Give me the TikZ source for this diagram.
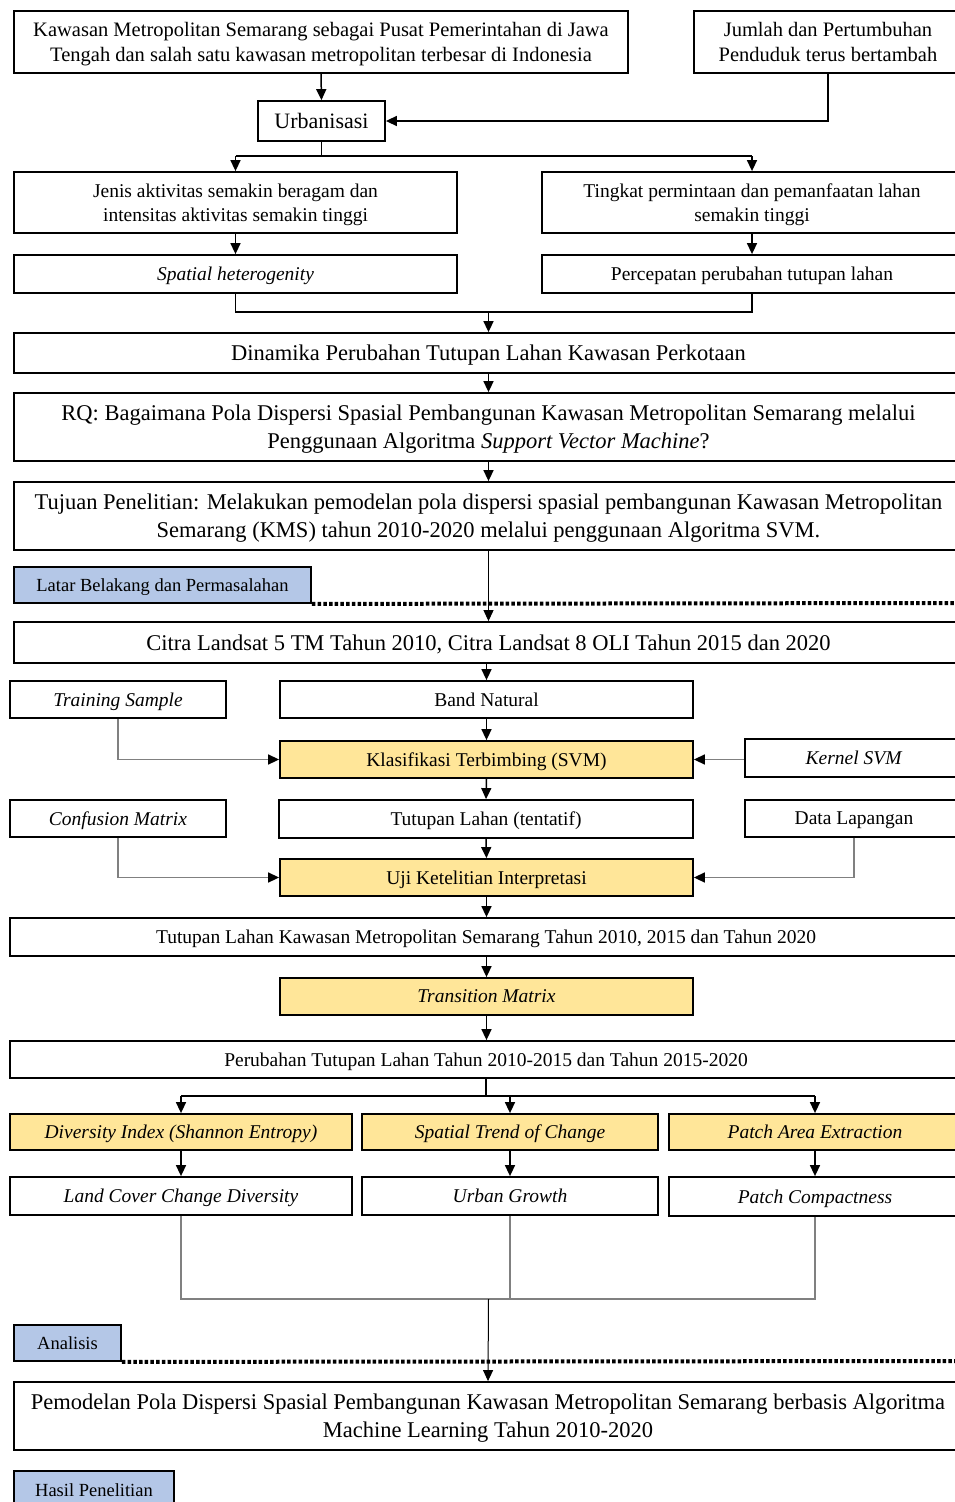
\documentclass[tikz,border=0pt]{standalone}
\usepackage{fontspec}
\setmainfont{Liberation Serif}
\usetikzlibrary{arrows.meta,calc}
\definecolor{bluec}{RGB}{180,199,231}
\definecolor{yellowc}{RGB}{255,230,153}
\definecolor{lgray}{RGB}{128,128,128}
\newcommand\setfs[2]{\fontsize{#1}{#2}\selectfont}
\begin{document}
\begin{tikzpicture}[x=1pt,y=-1pt,
  box/.style={draw=black, line width=1.8pt, fill=white, align=center, inner sep=0pt, text=black, text depth=0pt},
  hl/.style={box, fill=yellowc},
  lbl/.style={box, fill=bluec},
  conn/.style={line width=1.5pt, draw=black},
  arr/.style={conn, -{Triangle[length=11pt,width=10pt]}},
  tarr/.style={line width=1pt, draw=black, -{Triangle[length=11pt,width=10pt]}},
  gconn/.style={line width=1.5pt, draw=lgray},
  garr/.style={gconn, -{Triangle[length=11pt,width=10pt,color=black]}},
  dotl/.style={line width=4pt, draw=black, dash pattern=on 3.5pt off 2.2pt},
  f1/.style={font=\setfs{20.5}{25}},
  f2/.style={font=\setfs{19.5}{24}},
  f3/.style={font=\setfs{22.5}{28}},
  f4/.style={font=\setfs{18.5}{22}}
]
\useasboundingbox (0,0) rectangle (954,1502);
\fill[white] (0,0) rectangle (954,1502);

% --- top part
\node[box,f1,minimum width=614pt,minimum height=62pt] (A) at (321,42) {Kawasan Metropolitan Semarang sebagai Pusat Pemerintahan di Jawa\\Tengah dan salah satu kawasan metropolitan terbesar di Indonesia};
\node[box,f1,minimum width=268pt,minimum height=62pt] (B) at (828,42) {Jumlah dan Pertumbuhan\\Penduduk terus bertambah};
\node[box,font=\setfs{22}{26},minimum width=127pt,minimum height=40pt] (U) at (321.5,121) {Urbanisasi};
\node[box,f2,minimum width=443pt,minimum height=61pt] (C) at (235.5,202.5) {Jenis aktivitas semakin beragam dan\\intensitas aktivitas semakin tinggi};
\node[box,f2,minimum width=420pt,minimum height=61pt] (D) at (752,202.5) {Tingkat permintaan dan pemanfaatan lahan\\semakin tinggi};
\node[box,f2,minimum width=443pt,minimum height=38pt] (E) at (235.5,274) {\textit{Spatial heterogenity}};
\node[box,f2,minimum width=420pt,minimum height=38pt] (F) at (752,274) {Percepatan perubahan tutupan lahan};
\node[box,f3,minimum width=949pt,minimum height=40pt] (G) at (488.5,353) {Dinamika Perubahan Tutupan Lahan Kawasan Perkotaan};
\node[box,f3,minimum width=949pt,minimum height=68pt] (H) at (488.5,427) {RQ: Bagaimana Pola Dispersi Spasial Pembangunan Kawasan Metropolitan Semarang melalui\\Penggunaan Algoritma \textit{Support Vector Machine}?};
\node[box,f3,minimum width=949pt,minimum height=68pt] (I) at (488.5,516) {Tujuan Penelitian: Melakukan pemodelan pola dispersi spasial pembangunan Kawasan Metropolitan\\Semarang (KMS) tahun 2010-2020 melalui penggunaan Algoritma SVM.};
\node[lbl,f4,minimum width=297pt,minimum height=36pt] (LB) at (162.5,585) {Latar Belakang dan Permasalahan};

% --- middle part
\node[box,f3,minimum width=949pt,minimum height=41pt] (J) at (488.5,642.5) {Citra Landsat 5 TM Tahun 2010, Citra Landsat 8 OLI Tahun 2015 dan 2020};
\node[box,f2,minimum width=216pt,minimum height=37pt] (TS) at (118,699.5) {\textit{Training Sample}};
\node[box,f2,minimum width=413pt,minimum height=37pt] (BN) at (486.5,699.5) {Band Natural};
\node[hl,f2,minimum width=413pt,minimum height=37pt] (KL) at (486.5,759.5) {Klasifikasi Terbimbing (SVM)};
\node[box,f2,minimum width=218pt,minimum height=38pt] (KS) at (854,758) {\textit{Kernel SVM}};
\node[box,f2,minimum width=216pt,minimum height=37pt] (CM) at (118,818.5) {\textit{Confusion Matrix}};
\node[box,f2,minimum width=414pt,minimum height=38pt] (TT) at (486,819) {Tutupan Lahan (tentatif)};
\node[box,f2,minimum width=218pt,minimum height=37pt] (DL) at (854,818.5) {Data Lapangan};
\node[hl,f2,minimum width=413pt,minimum height=37pt] (UK) at (486.5,877.5) {Uji Ketelitian Interpretasi};
\node[box,f2,minimum width=952pt,minimum height=38pt] (K) at (486,937) {Tutupan Lahan Kawasan Metropolitan Semarang Tahun 2010, 2015 dan Tahun 2020};
\node[hl,f2,minimum width=413pt,minimum height=37pt] (TM) at (486.5,996.5) {\textit{Transition Matrix}};
\node[box,f2,minimum width=952pt,minimum height=37pt] (L) at (486,1059.5) {Perubahan Tutupan Lahan Tahun 2010-2015 dan Tahun 2015-2020};

% --- analysis part
\node[hl,f2,minimum width=342pt,minimum height=36pt] (DI) at (181,1132) {\textit{Diversity Index (Shannon Entropy)}};
\node[hl,f2,minimum width=296pt,minimum height=36pt] (ST) at (510,1132) {\textit{Spatial Trend of Change}};
\node[hl,f2,minimum width=292pt,minimum height=36pt] (PA) at (815,1132) {\textit{Patch Area Extraction}};
\node[box,f2,minimum width=342pt,minimum height=38pt] (LC) at (181,1196) {\textit{Land Cover Change Diversity}};
\node[box,f2,minimum width=296pt,minimum height=38pt] (UG) at (510,1196) {\textit{Urban Growth}};
\node[box,f2,minimum width=292pt,minimum height=39pt] (PC) at (815,1196.5) {\textit{Patch Compactness}};
\node[lbl,f4,minimum width=107pt,minimum height=36pt] (AN) at (67.5,1343) {Analisis};
\node[box,f3,minimum width=948pt,minimum height=68pt] (M) at (488,1416) {Pemodelan Pola Dispersi Spasial Pembangunan Kawasan Metropolitan Semarang berbasis Algoritma\\Machine Learning Tahun 2010-2020};
\node[lbl,f4,minimum width=160pt,minimum height=38pt] (HP) at (94,1490) {Hasil Penelitian};

% --- junction coordinates
\coordinate (jB) at (828,121);
\coordinate (jU) at (321.5,156);
\coordinate (jEF) at (488.5,312);
\coordinate (jL) at (486,1096);
\coordinate (jM) at (488.5,1299);
\coordinate (dotend1) at (960,603);
\coordinate (dotend2) at (960,1361);

% --- connectors top
\draw[arr] (A.south) -- (U.north);
\draw[arr] (B.south) -- (jB) -- (U.east);
\draw[conn] (U.south) -- (jU);
\draw[conn] (C.north |- jU) -- (D.north |- jU);
\draw[arr] (C.north |- jU) -- (C.north);
\draw[arr] (D.north |- jU) -- (D.north);
\draw[arr] (C.south) -- (E.north);
\draw[arr] (D.south) -- (F.north);
\draw[conn] (E.south) -- (E.south |- jEF) -- (F.south |- jEF) -- (F.south);
\draw[arr] (jEF) -- (G.north);
\draw[arr] (G.south) -- (H.north);
\draw[arr] (H.south) -- (I.north);
\draw[dotl] (LB.south east) -- (dotend1);
\draw[tarr] (I.south) -- (J.north);

% --- connectors middle
\draw[arr] (BN.north |- J.south) -- (BN.north);
\draw[arr] (BN.south) -- (KL.north);
\draw[garr] (TS.south) -- (TS.south |- KL.west) -- (KL.west);
\draw[garr] (KS.west |- KL.east) -- (KL.east);
\draw[arr] (KL.south) -- (TT.north);
\draw[arr] (TT.south) -- (UK.north);
\draw[garr] (CM.south) -- (CM.south |- UK.west) -- (UK.west);
\draw[garr] (DL.south) -- (DL.south |- UK.east) -- (UK.east);
\draw[arr] (UK.south) -- (UK.south |- K.north);
\draw[arr] (TM.north |- K.south) -- (TM.north);
\draw[arr] (TM.south) -- (TM.south |- L.north);

% --- connectors bottom
\draw[conn] (L.south) -- (jL);
\draw[conn] (DI.north |- jL) -- (PA.north |- jL);
\draw[arr] (DI.north |- jL) -- (DI.north);
\draw[arr] (ST.north |- jL) -- (ST.north);
\draw[arr] (PA.north |- jL) -- (PA.north);
\draw[arr] (DI.south) -- (LC.north);
\draw[arr] (ST.south) -- (UG.north);
\draw[arr] (PA.south) -- (PC.north);
\draw[gconn] (LC.south) -- (LC.south |- jM) -- (PC.south |- jM) -- (PC.south);
\draw[gconn] (UG.south) -- (UG.south |- jM);
\draw[dotl] (AN.south east) -- (dotend2);
\draw[tarr] (jM) -- (M.north);
\end{tikzpicture}
\end{document}
